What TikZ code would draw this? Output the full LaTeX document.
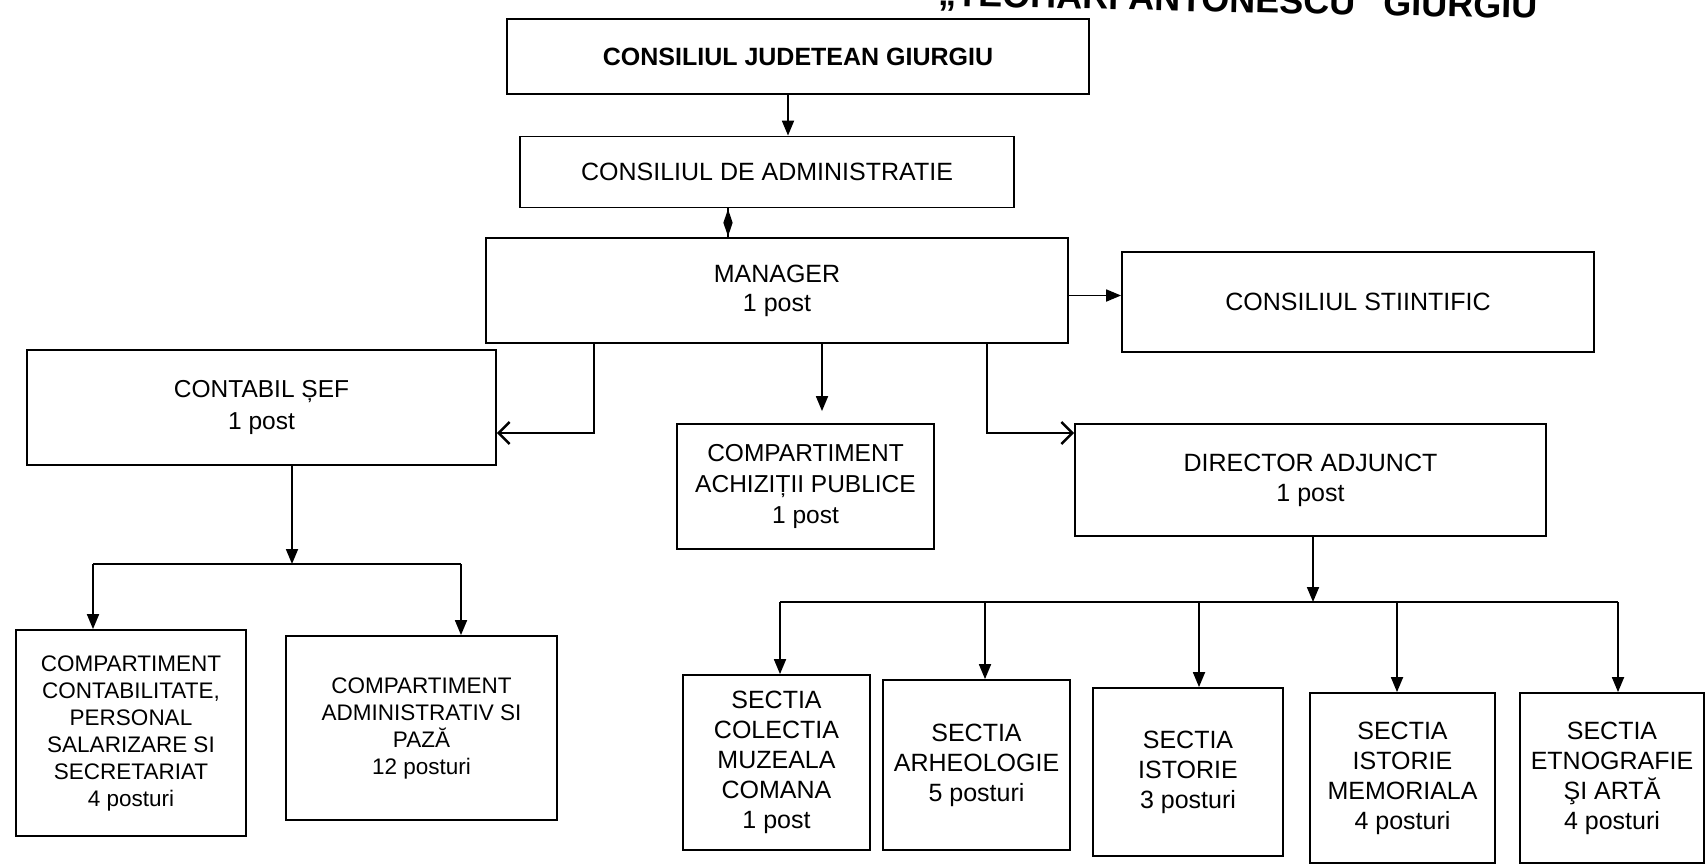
\documentclass[tikz,border=0pt]{standalone}
\usepackage{fontspec}
\setmainfont{Liberation Sans}
\usetikzlibrary{arrows.meta,shapes.geometric}
\tikzset{
  box/.style={draw=black, line width=1.8pt, align=center, inner sep=0pt},
  ft/.style={font=\fontsize{25}{30}\selectfont},
  ftm/.style={font=\fontsize{25}{29}\selectfont},
  ftc/.style={font=\fontsize{24.5}{32}\selectfont},
  fta/.style={font=\fontsize{24.5}{31}\selectfont},
  ftn/.style={font=\fontsize{22.5}{27}\selectfont},
  ftp/.style={font=\fontsize{22.5}{27}\selectfont},
  ftb/.style={font=\bfseries\fontsize{25}{30}\selectfont},
  conn/.style={draw=black, line width=1.8pt},
  arr/.style={conn, -{Triangle[length=15pt,width=12pt]}},
  oarr/.style={conn, -{Straight Barb[length=11pt,width=22pt,line width=2.4pt]}},
  diam/.style={diamond, fill=black, draw=none, inner sep=0pt, minimum width=10pt, minimum height=28pt}
}
\begin{document}
\begin{tikzpicture}[x=1pt,y=-1pt]
\useasboundingbox (0,0) rectangle (1707,867);
\fill[white] (0,0) rectangle (1707,867);
\clip (0,0) rectangle (1707,867);

% partially cut title (cut off by the top edge, as in the scan)
\node[font=\bfseries\fontsize{36}{40}\selectfont, anchor=base east, rotate=-1.2, inner sep=0pt] (title) at (1538,18.5) {„TEOHARI ANTONESCU” GIURGIU};

% boxes
\node[box, ftb, minimum width=582pt, minimum height=75pt] (b1) at (798,56.5) {CONSILIUL JUDETEAN GIURGIU};
\node[box, ft, minimum width=494pt, minimum height=71pt] (b2) at (767,172) {CONSILIUL DE ADMINISTRATIE};
\node[box, ftm, minimum width=582pt, minimum height=105pt] (b3) at (777,290.5) {MANAGER\\1 post};
\node[box, ft, minimum width=472pt, minimum height=100pt] (b4) at (1358,302) {CONSILIUL STIINTIFIC};
\node[box, ftc, minimum width=469pt, minimum height=115pt] (b5) at (261.5,407.5) {CONTABIL ȘEF\\1 post};
\node[box, fta, minimum width=257pt, minimum height=125pt] (b6) at (805.5,486.5) {COMPARTIMENT\\ACHIZIȚII PUBLICE\\1 post};
\node[box, ft, minimum width=471pt, minimum height=112pt] (b7) at (1310.5,480) {DIRECTOR ADJUNCT\\1 post};
\node[box, ftn, minimum width=230pt, minimum height=206pt] (b9) at (131,733) {COMPARTIMENT\\CONTABILITATE,\\PERSONAL\\SALARIZARE SI\\SECRETARIAT\\4 posturi};
\node[box, ftp, minimum width=271pt, minimum height=184pt] (b10) at (421.5,728) {COMPARTIMENT\\ADMINISTRATIV SI\\PAZĂ\\12 posturi};
\node[box, ft, minimum width=187pt, minimum height=175pt] (sa) at (776.5,762.5) {SECTIA\\COLECTIA\\MUZEALA\\COMANA\\1 post};
\node[box, ft, minimum width=187pt, minimum height=170pt] (sb) at (976.5,765) {SECTIA\\ARHEOLOGIE\\5 posturi};
\node[box, ft, minimum width=190pt, minimum height=168pt] (sc) at (1188,772) {SECTIA\\ISTORIE\\3 posturi};
\node[box, ft, minimum width=185pt, minimum height=170pt] (sd) at (1402.5,778) {SECTIA\\ISTORIE\\MEMORIALA\\4 posturi};
\node[box, ft, minimum width=184pt, minimum height=170pt] (se) at (1612,778) {SECTIA\\ETNOGRAFIE\\ŞI ARTĂ\\4 posturi};

% connectors
\coordinate (c1) at ([xshift=-10pt]b1.south);
\draw[arr] (c1) -- (c1 |- b2.north);

\coordinate (c2) at ([xshift=-39pt]b2.south);
\draw[conn] (c2) -- (c2 |- b3.north) node[midway, diam] (dm) {};

\coordinate (c3) at ([yshift=-5pt]b3.east);
\draw[arr] (c3) -- (c3 -| b4.west);

\coordinate (c4) at ([xshift=-183pt]b3.south);
\coordinate (c4b) at ([yshift=-25.5pt]b5.east);
\draw[oarr] (c4) |- (c4b);

\coordinate (c5) at ([xshift=45pt]b3.south);
\draw[arr, shorten >=12pt] (c5) -- (c5 |- b6.north);

\coordinate (c6) at ([xshift=210pt]b3.south);
\coordinate (c6b) at ([yshift=47pt]b7.west);
\draw[oarr] (c6) |- (c6b);

% contabil branch
\coordinate (c7) at ([xshift=30.5pt]b5.south);
\coordinate (barL) at (93,564);
\coordinate (barR) at (461,564);
\draw[arr] (c7) -- (c7 |- barL);
\draw[conn] (barL) -- (barR);
\draw[arr] (barL) -- (barL |- b9.north);
\draw[arr] (barR) -- (barR |- b10.north);

% director branch
\coordinate (c8) at ([xshift=2.5pt]b7.south);
\coordinate (sbarL) at (780,602);
\coordinate (sbarR) at (1618,602);
\draw[arr] (c8) -- (c8 |- sbarL);
\draw[conn] (sbarL) -- (sbarR);
\coordinate (da) at (780,602);
\coordinate (db) at (985,602);
\coordinate (dc) at (1199,602);
\coordinate (dd) at (1397,602);
\coordinate (de) at (1618,602);
\draw[arr] (da) -- (da |- sa.north);
\draw[arr] (db) -- (db |- sb.north);
\draw[arr] (dc) -- (dc |- sc.north);
\draw[arr] (dd) -- (dd |- sd.north);
\draw[arr] (de) -- (de |- se.north);
\end{tikzpicture}
\end{document}
